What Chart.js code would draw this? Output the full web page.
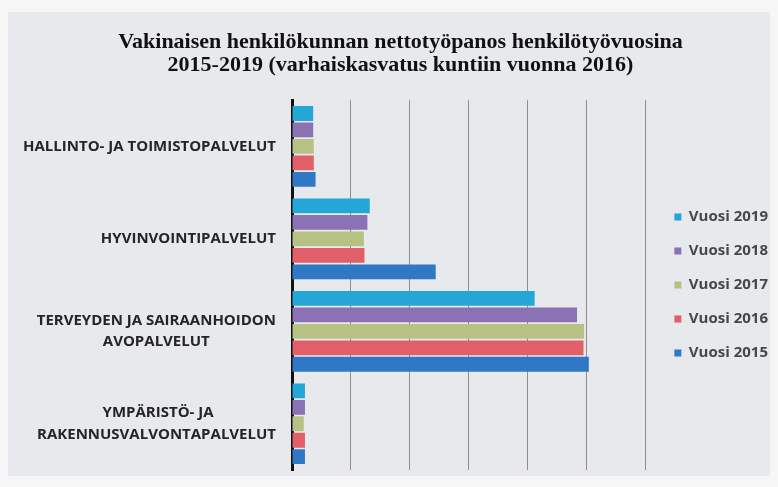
<!DOCTYPE html>
<html lang="fi">
<head>
    <meta charset="utf-8">
    <title>Nettotyöpanos henkilötyövuosina</title>
    <script src="https://cdn.jsdelivr.net/npm/chart.js@4.4.1/dist/chart.umd.min.js"></script>
    <style>
        body { margin: 0; background: #f6f6f7; }
        .panel { position: absolute; left: 8px; top: 12px; width: 762px; height: 464px; background: #e7e9ec; }
        .wrap { position: absolute; left: 0; top: 0; width: 778px; height: 487px; }
    </style>
</head>
<body>
    <div class="panel"></div>
    <div class="wrap"><canvas id="chart" width="778" height="487"></canvas></div>
    <script>
        // kategoriat (ylhäältä alas)
        const categories = [
            ["HALLINTO- JA TOIMISTOPALVELUT"],
            ["HYVINVOINTIPALVELUT"],
            ["TERVEYDEN JA SAIRAANHOIDON", "AVOPALVELUT"],
            ["YMPÄRISTÖ- JA", "RAKENNUSVALVONTAPALVELUT"]
        ];
        // henkilötyövuodet, arvioitu kuvasta
        const vuosi2019 = [36, 132, 412, 22];
        const vuosi2018 = [36, 128, 484, 22];
        const vuosi2017 = [37, 122, 496, 20];
        const vuosi2016 = [37, 123, 495, 22];
        const vuosi2015 = [40, 244, 504, 22];
        const seriesNames = ["Vuosi 2019", "Vuosi 2018", "Vuosi 2017", "Vuosi 2016", "Vuosi 2015"];
        const colors = ["#24a6d6", "#8a72b4", "#b8c184", "#e05f69", "#2f78c6"];

        const labelFont = { family: "'Open Sans', sans-serif", size: 15, weight: "700", lineHeight: 1.45 };

        // keskittää lyhyemmän rivin pitemmän alle (oikea tasaus + välilyönnit)
        const mctx = document.createElement("canvas").getContext("2d");
        mctx.font = "700 15px 'Open Sans', sans-serif";
        function centerLines(lines) {
            if (lines.length < 2) return lines[0];
            const widths = lines.map(l => mctx.measureText(l).width);
            const maxW = Math.max(...widths);
            const sp = mctx.measureText(" ").width;
            return lines.map((l, i) => l + " ".repeat(Math.round((maxW - widths[i]) / 2 / sp)));
        }

        const allSeries = [vuosi2019, vuosi2018, vuosi2017, vuosi2016, vuosi2015];
        const datasets = allSeries.map((d, i) => ({
            label: seriesNames[i],
            data: d,
            backgroundColor: colors[i],
            borderWidth: 0,
            categoryPercentage: 0.89,
            barPercentage: 0.9
        }));

        new Chart(document.getElementById("chart"), {
            type: "bar",
            data: { labels: categories, datasets: datasets },
            options: {
                indexAxis: "y",
                responsive: false,
                animation: false,
                layout: { padding: { left: 23, right: 0, top: 0, bottom: 17 } },
                plugins: {
                    title: {
                        display: true,
                        text: ["Vakinaisen henkilökunnan nettotyöpanos henkilötyövuosina",
                               "2015-2019 (varhaiskasvatus kuntiin vuonna 2016)"],
                        color: "#111",
                        font: { family: "'Liberation Serif', serif", size: 22, weight: "bold", lineHeight: 1.05 },
                        padding: { top: 31, bottom: 23 }
                    },
                    legend: {
                        position: "right",
                        align: "center",
                        fullSize: false,
                        labels: {
                            boxWidth: 7,
                            boxHeight: 7,
                            padding: 19,
                            color: "#474747",
                            font: { family: "'Open Sans', sans-serif", size: 15, weight: "700" }
                        }
                    },
                    tooltip: { enabled: false }
                },
                scales: {
                    x: {
                        min: 0,
                        max: 617,
                        ticks: { display: false, stepSize: 100, includeBounds: false },
                        grid: { color: "#8e8e8e", lineWidth: 1, drawTicks: false },
                        border: { display: false }
                    },
                    y: {
                        afterFit: function (scale) {
                            scale.width = 269;
                            // kaksiriviset nimet eivät tarvitse lisätilaa ylä-/alareunaan
                            scale.paddingTop = 0;
                            scale.paddingBottom = 0;
                        },
                        ticks: {
                            color: "#252525",
                            font: labelFont,
                            padding: 16,
                            callback: function (value) { return centerLines(categories[value]); }
                        },
                        grid: { display: false, drawTicks: false },
                        border: { display: true, color: "#111", width: 3 }
                    }
                }
            }
        });
    </script>
</body>
</html>
